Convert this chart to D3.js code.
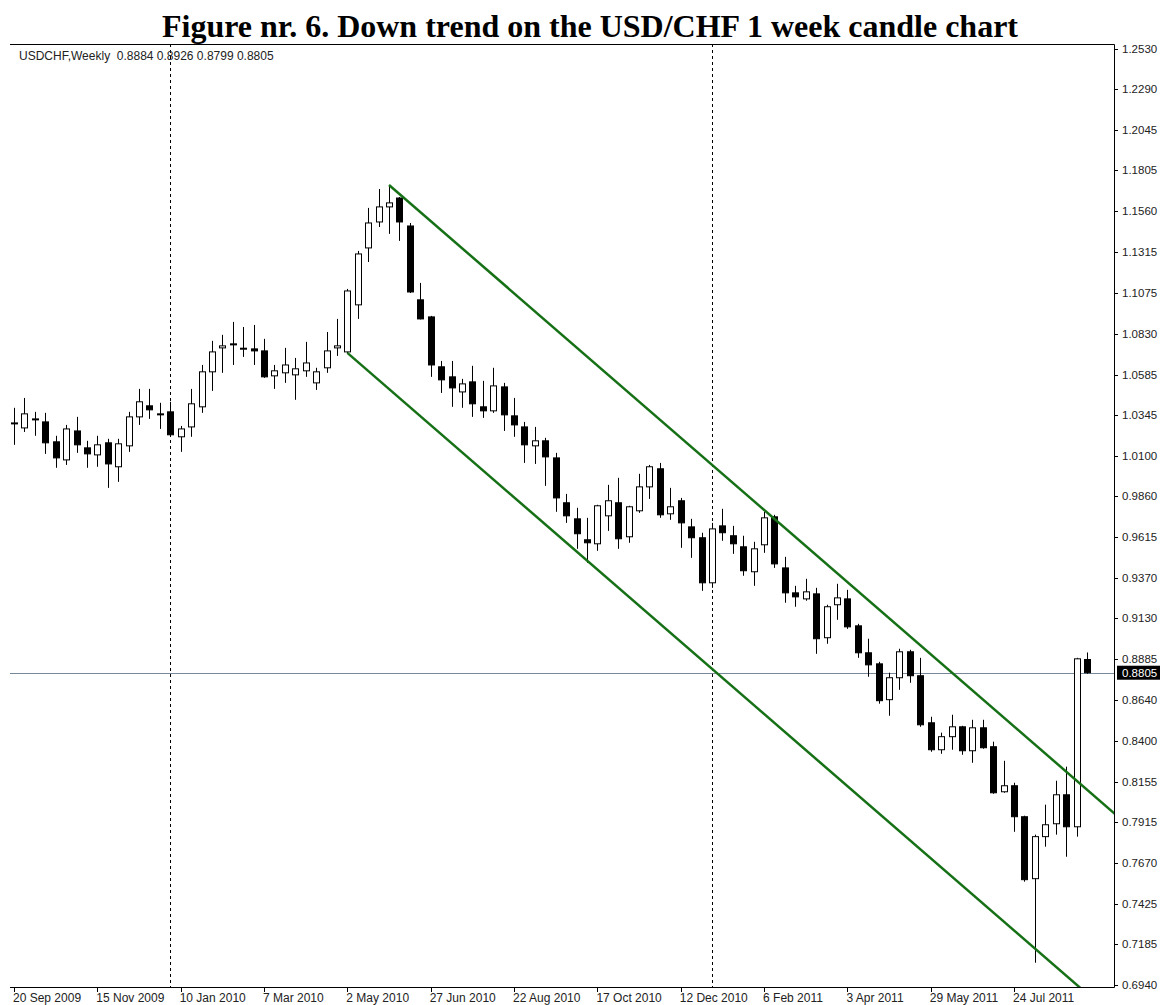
<!DOCTYPE html>
<html>
<head>
<meta charset="utf-8">
<script src="https://cdn.jsdelivr.net/npm/d3@7"></script>
<style>
  body { margin: 0; background: #fff; }
  svg text { font-family: "Liberation Sans", Arial, sans-serif; }
</style>
</head>
<body>
<div id="chart"></div>
<script>
// weekly candles, USD/CHF (bar index 0 = 20 Sep 2009)
const opens = [1.0291,1.0267,1.0318,1.0303,1.0184,1.0076,1.0249,1.0148,1.0106,1.0178,
  1.0035,1.0160,1.0333,1.0399,1.0351,1.0363,1.0214,1.0273,1.0393,1.0602,
  1.0745,1.0769,1.0739,1.0739,1.0727,1.0578,1.0596,1.0584,1.0608,1.0536,
  1.0626,1.0745,1.0721,1.1002,1.1342,1.1497,1.1587,1.1640,1.1473,1.1032,
  1.0930,1.0632,1.0572,1.0482,1.0542,1.0393,1.0369,1.0512,1.0339,1.0273,
  1.0160,1.0190,1.0088,0.9820,0.9724,0.9599,0.9575,0.9742,0.9820,0.9617,
  0.9772,0.9915,1.0023,0.9754,0.9832,0.9676,0.9611,0.9342,0.9682,0.9623,
  0.9557,0.9408,0.9569,0.9736,0.9431,0.9282,0.9246,0.9276,0.9014,0.9211,
  0.9246,0.9085,0.8924,0.8858,0.8644,0.8775,0.8930,0.8787,0.8506,0.8345,
  0.8423,0.8482,0.8339,0.8476,0.8363,0.8094,0.8130,0.7945,0.7575,0.7826,
  0.7903,0.8076,0.7885,0.8884];
const highs = [1.0387,1.0446,1.0363,1.0357,1.0220,1.0285,1.0333,1.0190,1.0220,1.0202,
  1.0202,1.0363,1.0500,1.0500,1.0417,1.0423,1.0279,1.0500,1.0643,1.0787,
  1.0823,1.0900,1.0870,1.0882,1.0799,1.0643,1.0745,1.0685,1.0781,1.0626,
  1.0840,1.0918,1.1097,1.1324,1.1581,1.1694,1.1718,1.1646,1.1491,1.1133,
  1.0936,1.0667,1.0667,1.0560,1.0638,1.0548,1.0626,1.0536,1.0446,1.0303,
  1.0273,1.0208,1.0118,0.9873,0.9790,0.9730,0.9808,0.9927,0.9969,0.9802,
  0.9993,1.0046,1.0058,0.9909,0.9849,0.9724,0.9641,0.9700,0.9784,0.9682,
  0.9623,0.9587,0.9766,0.9748,0.9497,0.9324,0.9366,0.9312,0.9211,0.9336,
  0.9300,0.9097,0.9008,0.8870,0.8805,0.8948,0.8942,0.8894,0.8542,0.8447,
  0.8554,0.8488,0.8524,0.8524,0.8393,0.8279,0.8148,0.7951,0.7838,0.8017,
  0.8160,0.8244,0.8894,0.8926];
const lows = [1.0166,1.0243,1.0220,1.0112,1.0029,1.0046,1.0118,1.0029,1.0035,0.9909,
  0.9945,1.0124,1.0285,1.0321,1.0261,1.0214,1.0124,1.0214,1.0357,1.0488,
  1.0596,1.0643,1.0691,1.0643,1.0566,1.0500,1.0536,1.0435,1.0572,1.0494,
  1.0596,1.0697,1.0715,1.0918,1.1258,1.1467,1.1426,1.1384,1.1073,1.0915,
  1.0572,1.0476,1.0393,1.0387,1.0333,1.0327,1.0357,1.0249,1.0214,1.0058,
  1.0052,0.9921,0.9766,0.9700,0.9545,0.9461,0.9533,0.9652,0.9545,0.9581,
  0.9760,0.9843,0.9730,0.9718,0.9551,0.9491,0.9294,0.9312,0.9593,0.9515,
  0.9384,0.9324,0.9521,0.9431,0.9223,0.9199,0.9235,0.8918,0.8978,0.9121,
  0.9067,0.8894,0.8781,0.8620,0.8548,0.8703,0.8745,0.8482,0.8333,0.8321,
  0.8345,0.8315,0.8267,0.8351,0.8082,0.8088,0.7855,0.7557,0.7073,0.7766,
  0.7838,0.7706,0.7826,0.8799];
const closes = [1.0297,1.0351,1.0321,1.0178,1.0088,1.0261,1.0166,1.0112,1.0166,1.0052,
  1.0172,1.0333,1.0423,1.0375,1.0348,1.0226,1.0261,1.0411,1.0602,1.0721,
  1.0757,1.0763,1.0743,1.0727,1.0572,1.0608,1.0643,1.0620,1.0655,1.0602,
  1.0727,1.0757,1.1085,1.1306,1.1491,1.1587,1.1611,1.1497,1.1079,1.0918,
  1.0643,1.0554,1.0506,1.0530,1.0411,1.0369,1.0518,1.0345,1.0285,1.0166,
  1.0190,1.0094,0.9849,0.9742,0.9635,0.9581,0.9802,0.9832,0.9605,0.9796,
  0.9915,1.0035,0.9748,0.9796,0.9700,0.9611,0.9342,0.9664,0.9641,0.9575,
  0.9414,0.9545,0.9730,0.9455,0.9282,0.9258,0.9288,0.9008,0.9199,0.9252,
  0.9079,0.8924,0.8852,0.8638,0.8775,0.8930,0.8787,0.8494,0.8345,0.8423,
  0.8482,0.8339,0.8476,0.8357,0.8088,0.8130,0.7945,0.7569,0.7826,0.7897,
  0.8076,0.7885,0.8888,0.8805];

const timeTickBars = [0, 8, 16, 24, 32, 40, 48, 56, 64, 72, 80, 88, 96];
const timeTickLabels = ["20 Sep 2009", "15 Nov 2009", "10 Jan 2010", "7 Mar 2010", "2 May 2010",
  "27 Jun 2010", "22 Aug 2010", "17 Oct 2010", "12 Dec 2010", "6 Feb 2011", "3 Apr 2011",
  "29 May 2011", "24 Jul 2011"];
const priceTicks = ["1.2530","1.2290","1.2045","1.1805","1.1560","1.1315","1.1075","1.0830",
  "1.0585","1.0345","1.0100","0.9860","0.9615","0.9370","0.9130","0.8885","0.8640","0.8400",
  "0.8155","0.7915","0.7670","0.7425","0.7185","0.6940"];
const separatorBars = [15, 67];
// channel: upper from the May 2010 high, lower from the 2 May 2010 low, same slope
const channelStarts = [{bar: 36, price: 1.1718}, {bar: 32, price: 1.0715}];
const channelSlope = -0.00539; // price per bar
const lastPrice = 0.8805;
const header = "USDCHF,Weekly  0.8884 0.8926 0.8799 0.8805";
const title = "Figure nr. 6. Down trend on the USD/CHF 1 week candle chart";

const W = 1161, H = 1005;
const frame = {left: 10, top: 44, right: 1114, bottom: 987};

const svg = d3.select('#chart').append('svg')
    .attr('width', W)
    .attr('height', H);

const x = d3.scaleLinear()
    .domain([0, opens.length - 1])
    .range([14, 1087]);

const y = d3.scaleLinear()
    .domain([0.694, 1.253])
    .range([985, 49]);

const bars = opens.map((o, i) => ({i: i, o: o, h: highs[i], l: lows[i], c: closes[i]}));

svg.append('defs').append('clipPath')
    .attr('id', 'plot-clip')
  .append('rect')
    .attr('x', frame.left)
    .attr('y', frame.top)
    .attr('width', frame.right - frame.left)
    .attr('height', frame.bottom - frame.top);

// title
svg.append('text')
    .attr('x', 590)
    .attr('y', 37)
    .attr('text-anchor', 'middle')
    .style('font-family', '"Liberation Serif", "Times New Roman", serif')
    .style('font-weight', 'bold')
    .style('font-size', '32px')
    .text(title);

// frame
svg.append('path')
    .attr('d', `M${frame.left},${frame.top + 0.5}H${frame.right + 0.5}V${frame.bottom + 0.5}H${frame.left}`)
    .attr('fill', 'none')
    .attr('stroke', '#000')
    .attr('stroke-width', 1);

const plot = svg.append('g').attr('clip-path', 'url(#plot-clip)');

// bid line
plot.append('line')
    .attr('x1', frame.left)
    .attr('x2', frame.right)
    .attr('y1', Math.round(y(lastPrice)) + 0.5)
    .attr('y2', Math.round(y(lastPrice)) + 0.5)
    .attr('stroke', '#778899')
    .attr('stroke-width', 1);

// period separators
plot.selectAll('line.sep')
    .data(separatorBars)
    .join('line')
        .attr('class', 'sep')
        .attr('x1', d => Math.round(x(d)) + 0.5)
        .attr('x2', d => Math.round(x(d)) + 0.5)
        .attr('y1', frame.top)
        .attr('y2', frame.bottom)
        .attr('stroke', '#000')
        .attr('stroke-dasharray', '3,3');

// candles
const candle = plot.selectAll('g.candle')
    .data(bars)
    .join('g')
        .attr('class', 'candle');

candle.append('line')
    .attr('x1', d => Math.round(x(d.i)) + 0.5)
    .attr('x2', d => Math.round(x(d.i)) + 0.5)
    .attr('y1', d => y(d.h))
    .attr('y2', d => y(d.l))
    .attr('stroke', '#000')
    .attr('stroke-width', 1);

candle.append('rect')
    .attr('x', d => Math.round(x(d.i)) - 2.5)
    .attr('width', 6)
    .attr('y', d => y(Math.max(d.o, d.c)))
    .attr('height', d => Math.max(1, Math.abs(y(d.o) - y(d.c))))
    .attr('fill', d => d.c >= d.o ? '#fff' : '#000')
    .attr('stroke', '#000')
    .attr('stroke-width', 1);

// trend channel
plot.selectAll('line.channel')
    .data(channelStarts)
    .join('line')
        .attr('class', 'channel')
        .attr('x1', d => x(d.bar))
        .attr('y1', d => y(d.price))
        .attr('x2', d => x(d.bar + 120))
        .attr('y2', d => y(d.price + channelSlope * 120))
        .attr('stroke', '#167016')
        .attr('stroke-width', 2.5);

// header
svg.append('text')
    .attr('x', 19)
    .attr('y', 60)
    .style('font-size', '12px')
    .style('white-space', 'pre')
    .attr('fill', '#222')
    .text(header);

// price axis
const priceAxis = svg.append('g');
priceAxis.selectAll('line')
    .data(priceTicks)
    .join('line')
        .attr('x1', frame.right)
        .attr('x2', frame.right + 4)
        .attr('y1', d => Math.round(y(+d)) + 0.5)
        .attr('y2', d => Math.round(y(+d)) + 0.5)
        .attr('stroke', '#000');
priceAxis.selectAll('text')
    .data(priceTicks)
    .join('text')
        .attr('x', frame.right + 8)
        .attr('y', d => y(+d) + 4)
        .style('font-size', '11.5px')
        .attr('fill', '#222')
        .text(d => d);

// last price marker
const lp = svg.append('g');
lp.append('rect')
    .attr('x', frame.right + 3)
    .attr('y', y(lastPrice) - 7)
    .attr('width', 43)
    .attr('height', 14)
    .attr('fill', '#000');
lp.append('text')
    .attr('x', frame.right + 8)
    .attr('y', y(lastPrice) + 4)
    .style('font-size', '11.5px')
    .attr('fill', '#fff')
    .text(lastPrice.toFixed(4));

// time axis
const timeAxis = svg.append('g');
timeAxis.selectAll('line')
    .data(timeTickBars)
    .join('line')
        .attr('x1', d => Math.round(x(d)) + 0.5)
        .attr('x2', d => Math.round(x(d)) + 0.5)
        .attr('y1', frame.bottom)
        .attr('y2', frame.bottom + 5)
        .attr('stroke', '#000');
timeAxis.selectAll('text')
    .data(timeTickBars)
    .join('text')
        .attr('x', d => x(d) - 1)
        .attr('y', frame.bottom + 15)
        .style('font-size', '12px')
        .attr('fill', '#222')
        .text((d, i) => timeTickLabels[i]);
</script>
</body>
</html>
